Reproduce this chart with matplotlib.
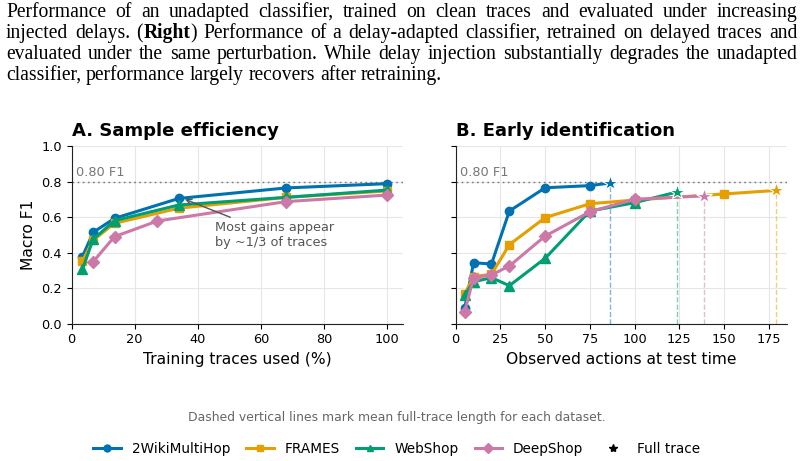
import matplotlib
matplotlib.use("Agg")
import matplotlib.pyplot as plt
from matplotlib.lines import Line2D

# ---------------- data ----------------
datasets = ["2WikiMultiHop", "FRAMES", "WebShop", "DeepShop"]
colors = ["#0072B2", "#E69F00", "#009E73", "#CC79A7"]
markers = ["o", "s", "^", "D"]

# Panel A: sample efficiency (x = % of training traces used)
pct_main = [3.4, 6.8, 13.6, 34.0, 68.0, 100.0]
pct_deep = [6.8, 13.6, 27.2, 68.0, 100.0]
f1_wiki = [0.377, 0.514, 0.593, 0.705, 0.764, 0.788]
f1_frames = [0.353, 0.470, 0.565, 0.650, 0.711, 0.747]
f1_webshop = [0.306, 0.475, 0.580, 0.668, 0.711, 0.752]
f1_deep = [0.349, 0.490, 0.578, 0.687, 0.724]

# Panel B: early identification (x = observed actions)
act_wiki = [5, 10, 20, 30, 50, 75]
act_frames = [5, 10, 20, 30, 50, 75, 100, 150]
act_webshop = [5, 10, 20, 30, 50, 75, 100]
act_deep = [5, 10, 20, 30, 50, 75, 100]
eb_wiki = [0.086, 0.343, 0.336, 0.634, 0.765, 0.777]
eb_frames = [0.167, 0.265, 0.278, 0.445, 0.597, 0.675, 0.696, 0.730]
eb_webshop = [0.161, 0.236, 0.259, 0.214, 0.368, 0.634, 0.681]
eb_deep = [0.068, 0.259, 0.274, 0.325, 0.493, 0.630, 0.700]
full_len = [86.5, 179.0, 123.6, 139.0]
full_f1 = [0.792, 0.750, 0.741, 0.720]

caption_lines = [
    "Performance of an unadapted classifier, trained on clean traces and evaluated under increasing",
    "injected delays. (**Right**) Performance of a delay-adapted classifier, retrained on delayed traces and",
    "evaluated under the same perturbation. While delay injection substantially degrades the unadapted",
    "classifier, performance largely recovers after retraining.",
]

# ---------------- figure ----------------
W, H = 804, 461
fig = plt.figure(figsize=(W / 100, H / 100), dpi=100)
fig.patch.set_facecolor("white")

ax1 = fig.add_axes([71.7 / W, 1 - 323.7 / H, 331 / W, 177.7 / H])
ax2 = fig.add_axes([455.7 / W, 1 - 323.7 / H, 331 / W, 177.7 / H], sharey=ax1)

lw = 2.2
ms = 6

A_x = [pct_main, pct_main, pct_main, pct_deep]
A_y = [f1_wiki, f1_frames, f1_webshop, f1_deep]
for x, y, c, m in zip(A_x, A_y, colors, markers):
    ax1.plot(x, y, color=c, marker=m, lw=lw, ms=ms if m != "^" else ms + 1, zorder=3)

B_x = [act_wiki, act_frames, act_webshop, act_deep]
B_y = [eb_wiki, eb_frames, eb_webshop, eb_deep]
for x, y, c, m, fx, fy in zip(B_x, B_y, colors, markers, full_len, full_f1):
    ax2.plot(list(x) + [fx], list(y) + [fy], color=c, lw=lw, zorder=3)
    ax2.plot(x, y, color=c, marker=m, lw=0, ms=ms if m != "^" else ms + 1, zorder=3)
    ax2.vlines(fx, 0, fy, colors=c, linestyles="--", lw=1.0, alpha=0.5, zorder=2)
    ax2.plot([fx], [fy], marker="*", color=c, ms=11.5, mec="white", mew=0.8, lw=0, zorder=4)

for ax in (ax1, ax2):
    ax.set_ylim(0, 1.0)
    ax.set_yticks([0.0, 0.2, 0.4, 0.6, 0.8, 1.0])
    ax.grid(True, color="#e6e6e6", lw=0.8, zorder=0)
    ax.set_axisbelow(True)
    for s in ("top", "right"):
        ax.spines[s].set_visible(False)
    ax.spines["left"].set_color("#222222")
    ax.spines["bottom"].set_color("#222222")
    ax.tick_params(labelsize=9.3, length=3.5, width=0.8)
    ax.axhline(0.8, color="#777777", lw=1.0, ls=(0, (1.2, 2.5)), zorder=1)

ax1.set_xlim(0, 105)
ax1.set_xticks([0, 20, 40, 60, 80, 100])
ax2.set_xlim(0, 185)
ax2.set_xticks([0, 25, 50, 75, 100, 125, 150, 175])
plt.setp(ax2.get_yticklabels(), visible=False)

ax1.text(1.4, 0.815, "0.80 F1", color="#777777", fontsize=9.3, va="bottom")
ax2.text(2.5, 0.815, "0.80 F1", color="#777777", fontsize=9.3, va="bottom")

ax1.set_xlabel("Training traces used (%)", fontsize=11.2)
ax1.set_ylabel("Macro F1", fontsize=11.2)
ax2.set_xlabel("Observed actions at test time", fontsize=11.2)

ax1.set_title("A. Sample efficiency", loc="left", fontsize=13, fontweight="bold", pad=7)
ax2.set_title("B. Early identification", loc="left", fontsize=13, fontweight="bold", pad=7)

ax1.annotate("Most gains appear\nby ~1/3 of traces", xy=(35.5, 0.703), xytext=(45.5, 0.50),
             fontsize=9.3, color="#555555", ha="left", va="center", linespacing=1.15,
             arrowprops=dict(arrowstyle="->", color="#555555", lw=1.0, shrinkA=2, shrinkB=1))

# note and legend
fig.text(396.5 / W, 1 - 417 / H, "Dashed vertical lines mark mean full-trace length for each dataset.",
         ha="center", va="center", fontsize=8.9, color="#666666")
handles = [Line2D([], [], color=c, marker=m, lw=2.2, ms=5) for c, m in zip(colors, markers)]
handles.append(Line2D([], [], color="black", marker="*", lw=0, ms=6))
fig.legend(handles, datasets + ["Full trace"], loc="center", bbox_to_anchor=(397 / W, 1 - 449 / H),
           ncol=5, frameon=False, fontsize=9.8, handlelength=2.0, columnspacing=1.2, handletextpad=0.8)

# ---------------- justified caption ----------------
renderer = fig.canvas.get_renderer()
left_px, right_px = 6.0, 797.5
baselines = [17.3, 38.3, 59.3, 80.2]
cap_fs = 14.1


def parse_word(w):
    segs = []
    parts = w.split("**")
    for i, p in enumerate(parts):
        if p:
            segs.append((p, "bold" if i % 2 == 1 else "normal"))
    return segs


for li, (line, by) in enumerate(zip(caption_lines, baselines)):
    words = [parse_word(w) for w in line.split(" ")]
    objs = []
    widths = []
    for segs in words:
        wobjs = []
        ww = 0
        for txt, wt in segs:
            t = fig.text(0, 1 - by / H, txt, fontsize=cap_fs, fontweight=wt,
                         family="Liberation Serif", va="baseline", ha="left")
            bb = t.get_window_extent(renderer)
            wobjs.append((t, bb.width))
            ww += bb.width
        objs.append(wobjs)
        widths.append(ww)
    if li < len(caption_lines) - 1:
        gap = (right_px - left_px - sum(widths)) / (len(words) - 1)
    else:
        sp = fig.text(0, 0, "a a", fontsize=cap_fs, family="Liberation Serif")
        sa = fig.text(0, 0, "aa", fontsize=cap_fs, family="Liberation Serif")
        gap = sp.get_window_extent(renderer).width - sa.get_window_extent(renderer).width
        sp.remove(); sa.remove()
    x = left_px
    for wobjs, ww in zip(objs, widths):
        xx = x
        for t, w in wobjs:
            t.set_x(xx / W)
            xx += w
        x += ww + gap

fig.savefig("out.png", dpi=100, facecolor="white")
